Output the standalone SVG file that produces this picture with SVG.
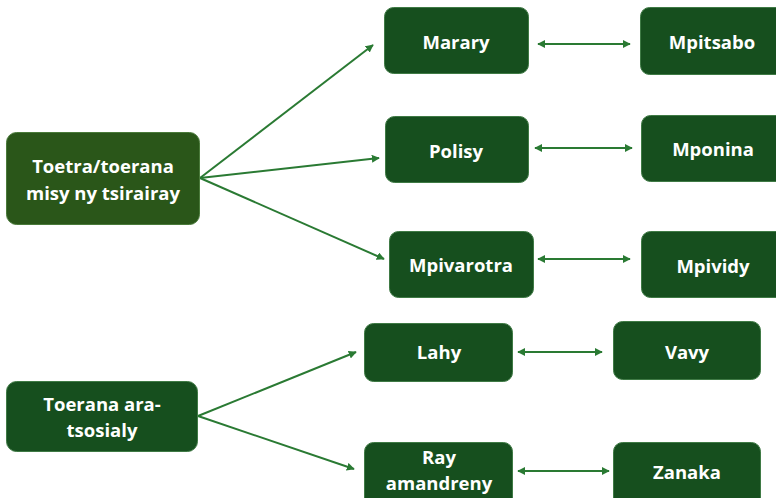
<svg xmlns="http://www.w3.org/2000/svg" width="776" height="498" viewBox="0 0 776 498">
<style>
.n{fill:#164f1e;stroke:#3f7a45;stroke-width:1}
.t{fill:#ffffff;font-family:"Open Sans","Noto Sans",sans-serif;font-weight:bold;font-size:18.5px;text-anchor:middle}
.c{stroke:#2a7a33;stroke-width:2;fill:none}
</style>
<defs>
<marker id="ah" viewBox="0 0 10 10" refX="9" refY="5" markerWidth="4" markerHeight="4" orient="auto-start-reverse">
<path d="M0,0 L10,5 L0,10 z" fill="#2a7a33"/>
</marker>
</defs>
<rect width="776" height="498" fill="#ffffff"/>
<g id="connectors">
<line class="c" x1="200" y1="178" x2="373" y2="45" marker-end="url(#ah)"/>
<line class="c" x1="200" y1="178" x2="379" y2="158" marker-end="url(#ah)"/>
<line class="c" x1="200" y1="178" x2="384" y2="259" marker-end="url(#ah)"/>
<line class="c" x1="538" y1="44" x2="630" y2="44" marker-start="url(#ah)" marker-end="url(#ah)"/>
<line class="c" x1="535" y1="148" x2="632" y2="148" marker-start="url(#ah)" marker-end="url(#ah)"/>
<line class="c" x1="538" y1="259" x2="630" y2="259" marker-start="url(#ah)" marker-end="url(#ah)"/>
<line class="c" x1="198" y1="416" x2="356" y2="352" marker-end="url(#ah)"/>
<line class="c" x1="198" y1="416" x2="354" y2="469" marker-end="url(#ah)"/>
<line class="c" x1="518" y1="352" x2="602" y2="352" marker-start="url(#ah)" marker-end="url(#ah)"/>
<line class="c" x1="518" y1="471" x2="609" y2="471" marker-start="url(#ah)" marker-end="url(#ah)"/>
</g>
<g id="toetra">
<rect x="6.5" y="132.5" width="193" height="92" rx="10" fill="#2a5619" stroke="#4a7a3a" stroke-width="1"/>
<text class="t" x="103" y="173">Toetra/toerana</text>
<text class="t" x="103" y="200">misy ny tsirairay</text>
</g>
<g id="marary">
<rect class="n" x="384.5" y="7.5" width="144" height="66" rx="9"/>
<text class="t" x="456" y="49">Marary</text>
</g>
<g id="mpitsabo">
<rect class="n" x="640.5" y="7.5" width="145" height="67" rx="9"/>
<text class="t" x="712" y="49">Mpitsabo</text>
</g>
<g id="polisy">
<rect class="n" x="385.5" y="116.5" width="143" height="66" rx="9"/>
<text class="t" x="456" y="158">Polisy</text>
</g>
<g id="mponina">
<rect class="n" x="641.5" y="115.5" width="144" height="66" rx="9"/>
<text class="t" x="713" y="156">Mponina</text>
</g>
<g id="mpivarotra">
<rect class="n" x="389.5" y="231.5" width="144" height="66" rx="9"/>
<text class="t" x="461" y="272">Mpivarotra</text>
</g>
<g id="mpividy">
<rect class="n" x="641.5" y="231.5" width="144" height="66" rx="9"/>
<text class="t" x="713" y="273">Mpividy</text>
</g>
<g id="toerana">
<rect class="n" x="6.5" y="381.5" width="191" height="70" rx="10"/>
<text class="t" x="102" y="411">Toerana ara-</text>
<text class="t" x="102" y="437">tsosialy</text>
</g>
<g id="lahy">
<rect class="n" x="364.5" y="323.5" width="148" height="58" rx="9"/>
<text class="t" x="439" y="359">Lahy</text>
</g>
<g id="vavy">
<rect class="n" x="613.5" y="321.5" width="147" height="58" rx="9"/>
<text class="t" x="687" y="359">Vavy</text>
</g>
<g id="ray">
<rect class="n" x="364.5" y="442.5" width="148" height="66" rx="9"/>
<text class="t" x="439" y="464">Ray</text>
<text class="t" x="439" y="490">amandreny</text>
</g>
<g id="zanaka">
<rect class="n" x="613.5" y="442.5" width="147" height="66" rx="9"/>
<text class="t" x="687" y="479">Zanaka</text>
</g>
</svg>
